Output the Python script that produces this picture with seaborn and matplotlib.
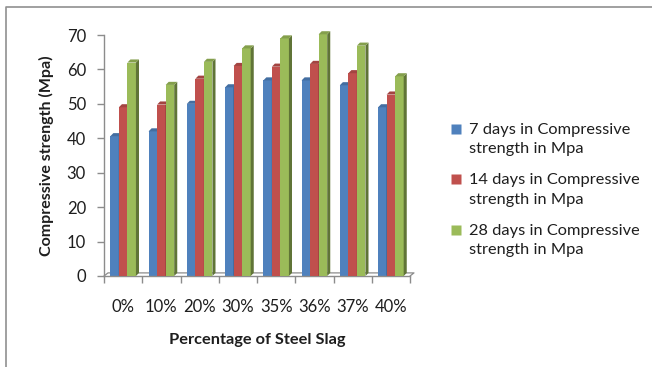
import matplotlib
matplotlib.use("Agg")
import matplotlib.pyplot as plt
from matplotlib.patches import Polygon
from matplotlib.lines import Line2D
from matplotlib.legend_handler import HandlerLine2D
import matplotlib.colors as mcolors
import seaborn as sns
import pandas as pd
import numpy as np

# Steel slag replacement levels
categories = ["0%", "10%", "20%", "30%", "35%", "36%", "37%", "40%"]
series_names = [
    "7 days in Compressive strength in Mpa",
    "14 days in Compressive strength in Mpa",
    "28 days in Compressive strength in Mpa",
]
day7 = [40.6, 42.0, 50.0, 54.8, 56.8, 56.8, 55.4, 49.0]
day14 = [49.0, 49.8, 57.3, 61.0, 60.8, 61.6, 58.9, 52.7]
day28 = [62.0, 55.5, 62.2, 66.1, 69.0, 70.2, 66.9, 58.0]
colors = ["#4F81BD", "#C0504D", "#9BBB59"]
y_ticks = [0, 10, 20, 30, 40, 50, 60, 70]

df = pd.DataFrame({
    "Percentage": categories * 3,
    "Series": np.repeat(series_names, len(categories)),
    "Strength": day7 + day14 + day28,
})

sns.set_theme(style="white")
plt.rcParams["font.family"] = ["Lato", "DejaVu Sans"]

fig = plt.figure(figsize=(6.52, 3.67), dpi=100)
ax = fig.add_axes([104 / 652, 1 - 276 / 367, (410 - 104) / 652, (276 - 35) / 367])

sns.barplot(data=df, x="Percentage", y="Strength", hue="Series",
            palette=colors, order=categories, hue_order=series_names,
            width=0.67, dodge=True, saturation=1, ax=ax, legend=False,
            edgecolor="none", linewidth=0)

# Pseudo-3D depth: side and top faces for each column
dx, dy = 0.08, 0.9
n = len(categories)
for i, patch in enumerate(ax.patches[: 3 * n]):
    s = i // n
    base = colors[s]
    z = 2 + s
    patch.set_zorder(z)
    x0 = patch.get_x()
    w = patch.get_width()
    h = patch.get_height()
    side_col = tuple(np.array(mcolors.to_rgb(base)) * 0.62)
    top_col = tuple(np.array(mcolors.to_rgb(base)) * 0.85)
    side = Polygon([(x0 + w, 0), (x0 + w + dx, dy), (x0 + w + dx, h + dy), (x0 + w, h)],
                   closed=True, facecolor=side_col, edgecolor="none", zorder=z + 0.5,
                   clip_on=False)
    top = Polygon([(x0, h), (x0 + dx, h + dy), (x0 + w + dx, h + dy), (x0 + w, h)],
                  closed=True, facecolor=top_col, edgecolor="none", zorder=z + 0.5,
                  clip_on=False)
    ax.add_patch(side)
    ax.add_patch(top)
    patch.set_clip_on(False)

ax.set_xlim(-0.5, n - 0.5)
ax.set_ylim(0, 70)
ax.set_yticks(y_ticks)

# Floor outline
gray = "#8C8C8C"
ax.plot([-0.5, -0.5 + dx * 1.3, n - 0.5 + dx * 1.3, n - 0.5],
        [0, dy, dy, 0], color=gray, lw=0.9, zorder=1, clip_on=False)

for sp in ["top", "right"]:
    ax.spines[sp].set_visible(False)
for sp in ["left", "bottom"]:
    ax.spines[sp].set_color(gray)
    ax.spines[sp].set_linewidth(1.0)

ink = "#1E1E1E"
ax.set_xticks(np.arange(n))
ax.set_xticklabels(categories)
ax.set_xticks(np.arange(-0.5, n), minor=True)
ax.tick_params(axis="x", which="major", length=0, pad=16.5, labelsize=12, colors=ink)
ax.tick_params(axis="x", which="minor", length=5, width=1.0, color=gray, direction="out", bottom=True)
ax.tick_params(axis="y", length=5, width=1.0, color=gray, direction="out", left=True,
               pad=8, labelsize=12, labelcolor=ink)

ax.set_xlabel("Percentage of Steel Slag", fontsize=11.8, fontweight="bold",
              color=ink, labelpad=13)
ax.set_ylabel("Compressive strength (Mpa)", fontsize=11.5, fontweight="bold",
              color=ink, labelpad=9)


class FirstLineHandler(HandlerLine2D):
    """Places the legend marker beside the first line of a two-line label."""

    def __init__(self, shift, **kw):
        super().__init__(**kw)
        self.shift = shift

    def create_artists(self, legend, orig_handle, xdescent, ydescent,
                       width, height, fontsize, trans):
        artists = super().create_artists(legend, orig_handle, xdescent, ydescent,
                                         width, height, fontsize, trans)
        for a in artists:
            if isinstance(a, Line2D):
                a.set_ydata(np.asarray(a.get_ydata(), dtype=float) + self.shift)
        return artists


# Legend
handles = [Line2D([0], [0], marker="s", linestyle="none", markersize=6.5,
                  markerfacecolor=c, markeredgecolor="none") for c in colors]
labels = ["7 days in Compressive\nstrength in Mpa",
          "14 days in Compressive\nstrength in Mpa",
          "28 days in Compressive\nstrength in Mpa"]
fig.legend(handles, labels, loc="upper left", bbox_to_anchor=(444 / 652, 1 - 116 / 367),
           frameon=False, fontsize=11.8, handlelength=0.7, handletextpad=0.45,
           labelspacing=1.05, labelcolor=ink, borderaxespad=0,
           handler_map={Line2D: FirstLineHandler(shift=7.5)})
leg = fig.legends[0]
for t in leg.get_texts():
    t.set_linespacing(1.5)

# Chart-area border (left and top edges)
fig.add_artist(Line2D([6 / 652, 6 / 652, 1.0], [0.0, 1 - 7 / 367, 1 - 7 / 367],
                      transform=fig.transFigure, color="#909090", lw=1.2))

fig.savefig("out.png", dpi=100)
